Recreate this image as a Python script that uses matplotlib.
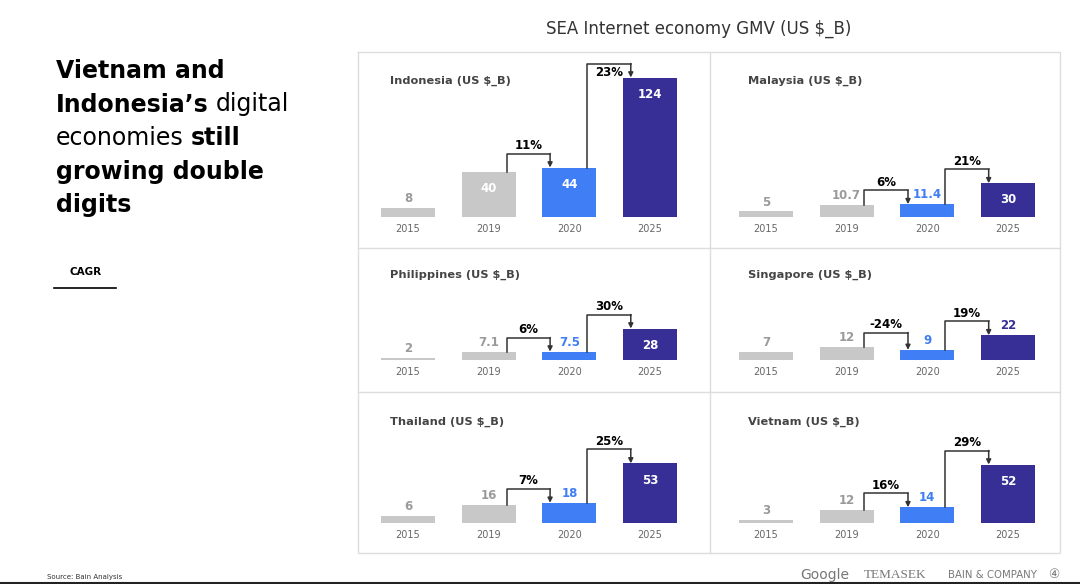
import matplotlib
matplotlib.use("Agg")
import matplotlib.pyplot as plt

plt.rcParams['font.family'] = ['DejaVu Sans']

# data
years = ['2015', '2019', '2020', '2025']
countries = ['Indonesia', 'Malaysia', 'Philippines', 'Singapore', 'Thailand', 'Vietnam']
indonesia = [8, 40, 44, 124]
malaysia = [5, 10.7, 11.4, 30]
philippines = [2, 7.1, 7.5, 28]
singapore = [7, 12, 9, 22]
thailand = [6, 16, 18, 53]
vietnam = [3, 12, 14, 52]
cagr_19_20 = [11, 6, 6, -24, 7, 16]
cagr_20_25 = [23, 21, 30, 19, 25, 29]
gmv = [indonesia, malaysia, philippines, singapore, thailand, vietnam]

W, H = 1080, 584
PX = 1.125  # pixels per US$ B (same scale in every panel)
GREY, BLUE, DARK = '#c8c8c8', '#3f7ef4', '#372f96'
bar_colors = [GREY, GREY, BLUE, DARK]
label_colors = ['#9a9a9a', '#9a9a9a', BLUE, DARK]

fig = plt.figure(figsize=(W / 100, H / 100), dpi=100)
bg = fig.add_axes([0, 0, 1, 1])
bg.set_xlim(0, W)
bg.set_ylim(H, 0)
bg.axis('off')

# panel grid
box = dict(color='#dddddd', lw=1.0)
bg.plot([358, 1060, 1060, 358, 358], [52, 52, 553, 553, 52], **box)
bg.plot([710, 710], [52, 553], **box)
bg.plot([358, 1060], [248, 248], **box)
bg.plot([358, 1060], [392, 392], **box)

bg.text(699, 29, 'SEA Internet economy GMV (US $_B)', ha='center', va='center',
        fontsize=12, color='#333333')

# headline with mixed weights
renderer = fig.canvas.get_renderer()
lines = [[('Vietnam and', 'bold')],
         [('Indonesia\u2019s', 'bold'), ('digital', 'normal')],
         [('economies', 'normal'), ('still', 'bold')],
         [('growing double', 'bold')],
         [('digits', 'bold')]]
for i, parts in enumerate(lines):
    x = 56
    for txt, wt in parts:
        t = bg.text(x, 78 + i * 33.5, txt, fontsize=17, fontweight=wt,
                    color='black', ha='left', va='baseline')
        x = t.get_window_extent(renderer).x1 + 7

bg.text(86, 272, 'CAGR', ha='center', va='center', fontsize=7.5, fontweight='bold')
bg.plot([54, 116], [288, 288], color='black', lw=1.2)

# footer
bg.text(47, 577, 'Source: Bain Analysis', fontsize=5, color='#333333', va='center')
bg.text(825, 575, 'Google', fontsize=10, color='#777777', ha='center', va='center')
bg.text(895, 575, 'TEMASEK', fontsize=9.5, color='#777777', ha='center', va='center',
        family='Liberation Serif')
bg.text(992, 575, 'BAIN & COMPANY', fontsize=7.3, color='#777777', ha='center', va='center')
bg.text(1054, 575, '\u2463', fontsize=9, color='#777777', ha='center', va='center')
bg.plot([0, W], [583, 583], color='#222222', lw=1.5)

row_tops = [52, 248, 392]
baselines = [217, 360, 523]
col_left = [367.7, 725.6]
spacing = 80.7

for i, name in enumerate(countries):
    vals = gmv[i]
    row, col = i // 2, i % 2
    top, base = row_tops[row], baselines[row]
    left = col_left[col]
    ax = fig.add_axes([left / W, 1 - base / H, 4 * spacing / W, (base - top) / H])
    ymax = (base - top) / PX
    ax.set_xlim(-0.5, 3.5)
    ax.set_ylim(0, ymax)
    for s in ax.spines.values():
        s.set_visible(False)
    ax.set_yticks([])
    ax.set_xticks(range(4))
    ax.set_xticklabels(years, fontsize=7, color='#666666')
    ax.tick_params(axis='x', length=0, pad=5)
    ax.patch.set_alpha(0)

    ax.bar(range(4), vals, width=0.67, color=bar_colors)
    for j, v in enumerate(vals):
        if v >= 25:
            ax.annotate(f'{v:g}', (j, v), xytext=(0, -12), textcoords='offset points',
                        ha='center', va='center', fontsize=8.5, fontweight='bold',
                        color='white')
        else:
            ax.annotate(f'{v:g}', (j, v), xytext=(0, 2), textcoords='offset points',
                        ha='center', va='bottom', fontsize=8.5, fontweight='bold',
                        color=label_colors[j])

    # CAGR connectors
    for (a, b), c in [((1, 2), cagr_19_20[i]), ((2, 3), cagr_20_25[i])]:
        x1, x2 = a + 0.22, b - 0.24
        level = max(vals[a], vals[b]) + 14 / PX
        ax.plot([x1, x1, x2], [vals[a], level, level], color='#333333', lw=1.1,
                clip_on=False)
        ax.annotate('', xy=(x2, vals[b]), xytext=(x2, level),
                    arrowprops=dict(arrowstyle='-|>', color='#333333', lw=1.1,
                                    mutation_scale=7, shrinkA=0, shrinkB=0),
                    annotation_clip=False)
        if level + 13 / PX > ymax:
            ax.annotate(f'{c}%', ((x1 + x2) / 2, level), xytext=(0, -2),
                        textcoords='offset points', ha='center', va='top',
                        fontsize=8.5, fontweight='bold', color='black')
        else:
            ax.annotate(f'{c}%', ((x1 + x2) / 2, level), xytext=(0, 1),
                        textcoords='offset points', ha='center', va='bottom',
                        fontsize=8.5, fontweight='bold', color='black')

    bg.text(left + 22, row_tops[row] + [29, 27, 30][row], f'{name} (US $_B)',
            fontsize=8.2, fontweight='bold', color='#444444', va='center')

fig.savefig('out.png', dpi=100)
